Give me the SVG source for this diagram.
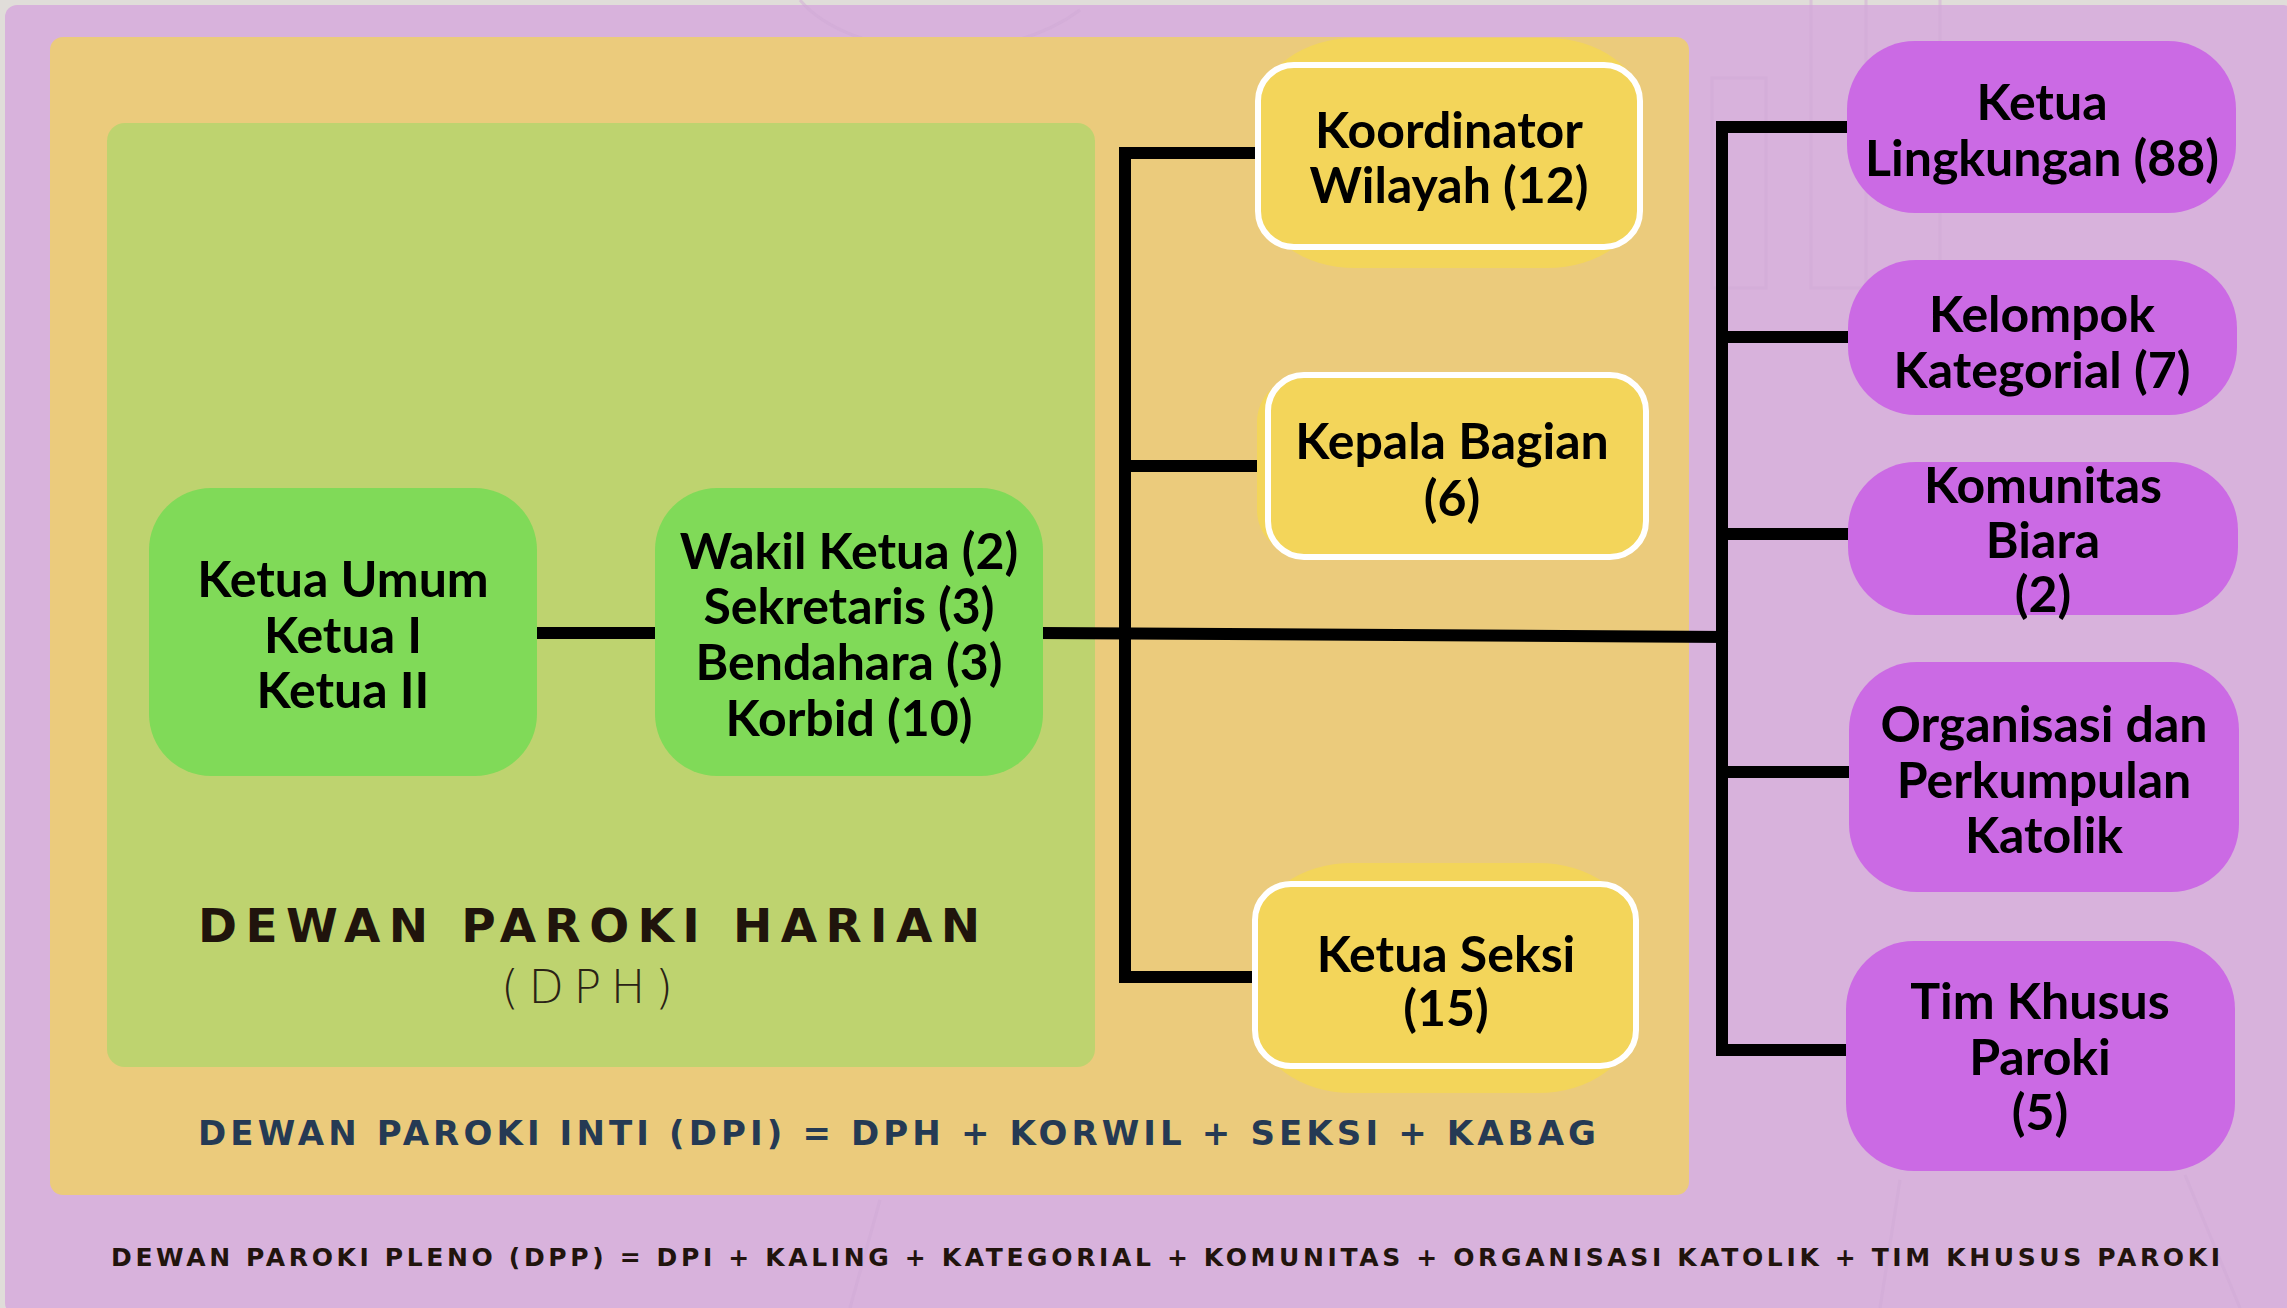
<svg xmlns="http://www.w3.org/2000/svg" width="2287" height="1308" viewBox="0 0 2287 1308">
<defs>
<style>
.node-text{font-family:Lato,"Liberation Sans",sans-serif;font-weight:700;font-size:50px;fill:#000;text-anchor:middle}
.green{fill:#80da58}
.yellow{fill:#f3d55a}
.ybox{fill:#f3d55a;stroke:#fff;stroke-width:6}
.purple{fill:#cb6ae4}
.conn{stroke:#000;stroke-width:12;fill:none;stroke-linecap:square}
.deco{stroke:#d0aad6;stroke-width:3;fill:none;opacity:0.5}
.caption{font-family:"DejaVu Sans","Open Sans",sans-serif;font-weight:700}
</style>
</defs>
<rect x="0" y="0" width="2287" height="1308" fill="#e0ddd9"/>
<rect x="5" y="5" width="2290" height="1310" rx="12" fill="#d8b2dc"/>
<g id="background-deco">
<path class="deco" d="M1712 78 H1766 V288 H1712 Z"/>
<path class="deco" d="M1811 0 V288 H1866 V0"/>
<path class="deco" d="M1940 0 V367"/>
<path class="deco" d="M800 0 C850 60 1000 70 1080 10"/>
<path class="deco" d="M2185 1175 L2240 1308"/>
<path class="deco" d="M1900 1180 L1880 1308"/>
<path class="deco" d="M850 1308 L880 1200"/>
</g>
<rect id="dpi-panel" x="50" y="37" width="1639" height="1158" rx="13" fill="#ebcb7c"/>
<rect id="dph-panel" x="107" y="123" width="988" height="944" rx="18" fill="#bed36f"/>

<g id="connectors">
<line class="conn" x1="537" y1="633" x2="655" y2="633"/>
<polyline class="conn" points="1043,633 1722,637"/>
<polyline class="conn" points="1255,153 1125,153 1125,977 1252,977"/>
<line class="conn" x1="1125" y1="466" x2="1265" y2="466"/>
<polyline class="conn" points="1848,127 1722,127 1722,1050 1846,1050"/>
<line class="conn" x1="1722" y1="337" x2="1848" y2="337"/>
<line class="conn" x1="1722" y1="534" x2="1848" y2="534"/>
<line class="conn" x1="1722" y1="772" x2="1849" y2="772"/>
</g>

<g id="node-ketua-umum">
<rect class="green" x="149" y="488" width="388" height="288" rx="62"/>
<text class="node-text" x="343" y="597">Ketua Umum</text>
<text class="node-text" x="343" y="653">Ketua I</text>
<text class="node-text" x="343" y="708">Ketua II</text>
</g>
<g id="node-wakil">
<rect class="green" x="655" y="488" width="388" height="288" rx="62"/>
<text class="node-text" x="849" y="569">Wakil Ketua (2)</text>
<text class="node-text" x="849" y="624">Sekretaris (3)</text>
<text class="node-text" x="849" y="680">Bendahara (3)</text>
<text class="node-text" x="849" y="736">Korbid (10)</text>
</g>

<g id="node-koordinator">
<rect class="yellow" x="1260" y="38" width="382" height="230" rx="95" ry="70"/>
<rect class="ybox" x="1258" y="65" width="382" height="182" rx="36"/>
<text class="node-text" x="1449" y="148">Koordinator</text>
<text class="node-text" x="1449" y="203">Wilayah (12)</text>
</g>
<g id="node-kepala">
<rect class="yellow" x="1257" y="377" width="390" height="178" rx="45"/>
<rect class="ybox" x="1268" y="375" width="378" height="182" rx="36"/>
<text class="node-text" x="1452" y="459">Kepala Bagian</text>
<text class="node-text" x="1452" y="516">(6)</text>
</g>
<g id="node-seksi">
<rect class="yellow" x="1257" y="863" width="376" height="230" rx="95" ry="70"/>
<rect class="ybox" x="1255" y="884" width="381" height="182" rx="36"/>
<text class="node-text" x="1446" y="972">Ketua Seksi</text>
<text class="node-text" x="1446" y="1026">(15)</text>
</g>

<g id="node-lingkungan">
<rect class="purple" x="1847" y="41" width="389" height="172" rx="68"/>
<text class="node-text" x="2042" y="120">Ketua</text>
<text class="node-text" x="2042" y="176">Lingkungan (88)</text>
</g>
<g id="node-kategorial">
<rect class="purple" x="1848" y="260" width="389" height="155" rx="68"/>
<text class="node-text" x="2042" y="332">Kelompok</text>
<text class="node-text" x="2042" y="388">Kategorial (7)</text>
</g>
<g id="node-komunitas">
<rect class="purple" x="1848" y="462" width="390" height="153" rx="68"/>
<text class="node-text" x="2043" y="503">Komunitas</text>
<text class="node-text" x="2043" y="558">Biara</text>
<text class="node-text" x="2043" y="612">(2)</text>
</g>
<g id="node-organisasi">
<rect class="purple" x="1849" y="662" width="390" height="230" rx="68"/>
<text class="node-text" x="2044" y="742">Organisasi dan</text>
<text class="node-text" x="2044" y="798">Perkumpulan</text>
<text class="node-text" x="2044" y="853">Katolik</text>
</g>
<g id="node-tim-khusus">
<rect class="purple" x="1846" y="941" width="389" height="230" rx="68"/>
<text class="node-text" x="2040" y="1019">Tim Khusus</text>
<text class="node-text" x="2040" y="1075">Paroki</text>
<text class="node-text" x="2040" y="1130">(5)</text>
</g>

<g id="captions">
<text class="caption" x="198" y="942" font-size="47" fill="#20140c" textLength="782" lengthAdjust="spacing">DEWAN PAROKI HARIAN</text>
<text x="501" y="1003" font-family="'DejaVu Sans',Lato,sans-serif" font-weight="200" font-size="46" fill="#2a2216" textLength="172" lengthAdjust="spacing">(DPH)</text>
<text class="caption" x="198" y="1145" font-size="34" fill="#253a54" textLength="1398" lengthAdjust="spacing">DEWAN PAROKI INTI (DPI) = DPH + KORWIL + SEKSI + KABAG</text>
<text class="caption" x="111" y="1266" font-size="25" fill="#21140d" textLength="2109" lengthAdjust="spacing">DEWAN PAROKI PLENO (DPP) = DPI + KALING + KATEGORIAL + KOMUNITAS + ORGANISASI KATOLIK + TIM KHUSUS PAROKI</text>
</g>
</svg>
